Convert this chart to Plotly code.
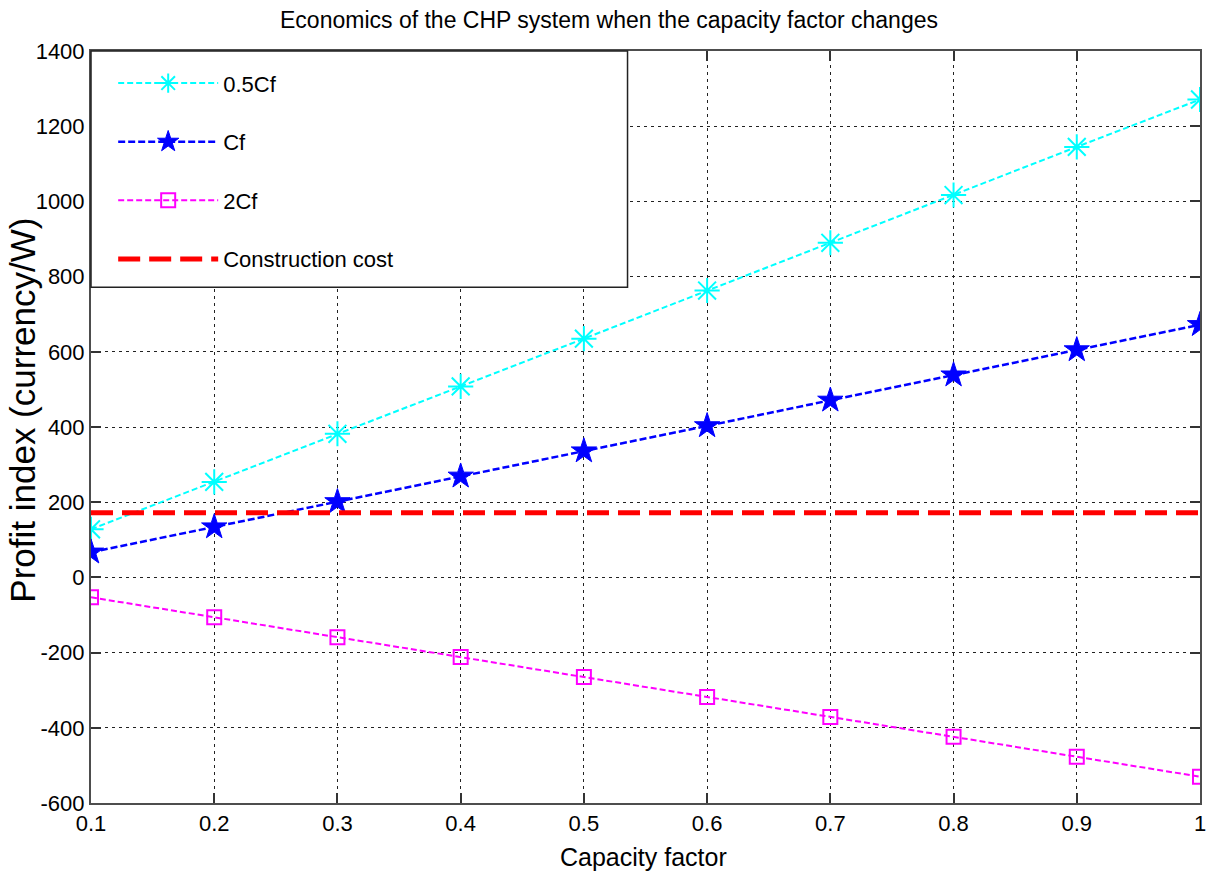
import plotly.graph_objects as go

# Capacity factor samples and the profit index for each fuel-cost scenario
capacity_factor = [0.1, 0.2, 0.3, 0.4, 0.5, 0.6, 0.7, 0.8, 0.9, 1.0]
profit_half_cf = [128, 254, 382, 508, 635, 763, 890, 1017, 1145, 1271]
profit_cf = [67, 134, 201, 269, 336, 403, 471, 538, 605, 672]
profit_double_cf = [-53, -106, -159, -212, -265, -318, -371, -424, -477, -530]
construction_cost = 172

y_ticks = [-600, -400, -200, 0, 200, 400, 600, 800, 1000, 1200, 1400]
x_ticks = [0.1, 0.2, 0.3, 0.4, 0.5, 0.6, 0.7, 0.8, 0.9, 1.0]
x_tick_text = ["0.1", "0.2", "0.3", "0.4", "0.5", "0.6", "0.7", "0.8", "0.9", "1"]

FONT = "Liberation Sans, Arial, sans-serif"

fig = go.Figure()

fig.add_trace(go.Scatter(
    x=capacity_factor, y=profit_half_cf, name="0.5Cf", mode="lines+markers",
    line=dict(color="#00FFFF", width=2, dash="6px,3px"),
    marker=dict(symbol="asterisk-open", size=21, line=dict(color="#00FFFF", width=2)),
    legendgroup="a",
))
fig.add_trace(go.Scatter(
    x=capacity_factor, y=profit_cf, name="Cf", mode="lines+markers",
    line=dict(color="#0000FF", width=2.5, dash="7px,3px"),
    marker=dict(symbol="star", size=19, color="#0000FF", line=dict(color="#0000FF", width=1)),
    legendgroup="b",
))
fig.add_trace(go.Scatter(
    x=capacity_factor, y=profit_double_cf, name="2Cf", mode="lines+markers",
    line=dict(color="#FF00FF", width=2, dash="6px,3px"),
    marker=dict(symbol="square-open", size=14, color="#FF00FF", line=dict(color="#FF00FF", width=2)),
    legendgroup="c",
))
fig.add_trace(go.Scatter(
    x=[capacity_factor[0], capacity_factor[-1]], y=[construction_cost, construction_cost],
    name="Construction cost", mode="lines",
    line=dict(color="#FF0000", width=5, dash="22px,9px"),
    legendgroup="d",
))

axis_common = dict(
    showline=True, linecolor="#4d4d4d", linewidth=2, mirror="allticks",
    ticks="inside", ticklen=10, tickwidth=2, tickcolor="#333333",
    showgrid=True, gridcolor="#222222", gridwidth=1, griddash="3px,4px",
    zeroline=False,
    tickfont=dict(family=FONT, size=22, color="black"),
)

fig.update_xaxes(range=[0.1, 1.0], tickvals=x_ticks, ticktext=x_tick_text, **axis_common)
fig.update_yaxes(range=[-600, 1400], tickvals=y_ticks,
                 ticktext=[str(v) for v in y_ticks], **axis_common)

# White legend panel in the upper-left corner of the plot area
fig.add_shape(type="rect", xref="paper", yref="paper",
              x0=0, x1=0.4838, y0=0.686, y1=1.0,
              fillcolor="white", line=dict(color="#222222", width=1.5), layer="above")

fig.update_layout(
    width=1218, height=878,
    margin=dict(l=91, r=15, t=51, b=75),
    paper_bgcolor="white", plot_bgcolor="white",
    title=dict(text="Economics of the CHP system when the capacity factor changes",
               x=0.5, xanchor="center", y=0.977, yanchor="middle",
               font=dict(family=FONT, size=23, color="black")),
    showlegend=True,
    legend=dict(x=0.02, y=0.985, xanchor="left", yanchor="top",
                bgcolor="rgba(0,0,0,0)", borderwidth=0,
                font=dict(family=FONT, size=22, color="black"),
                itemwidth=100, tracegroupgap=27),
    annotations=[
        dict(text="Profit index (currency/W)", xref="paper", yref="paper",
             x=-0.062, y=0.522, xanchor="center", yanchor="middle",
             textangle=-90, showarrow=False,
             font=dict(family=FONT, size=35, color="black")),
        dict(text="Capacity factor", xref="paper", yref="paper",
             x=0.498, y=-0.072, xanchor="center", yanchor="middle",
             showarrow=False,
             font=dict(family=FONT, size=25, color="black")),
    ],
)

fig.write_html("out.html")
